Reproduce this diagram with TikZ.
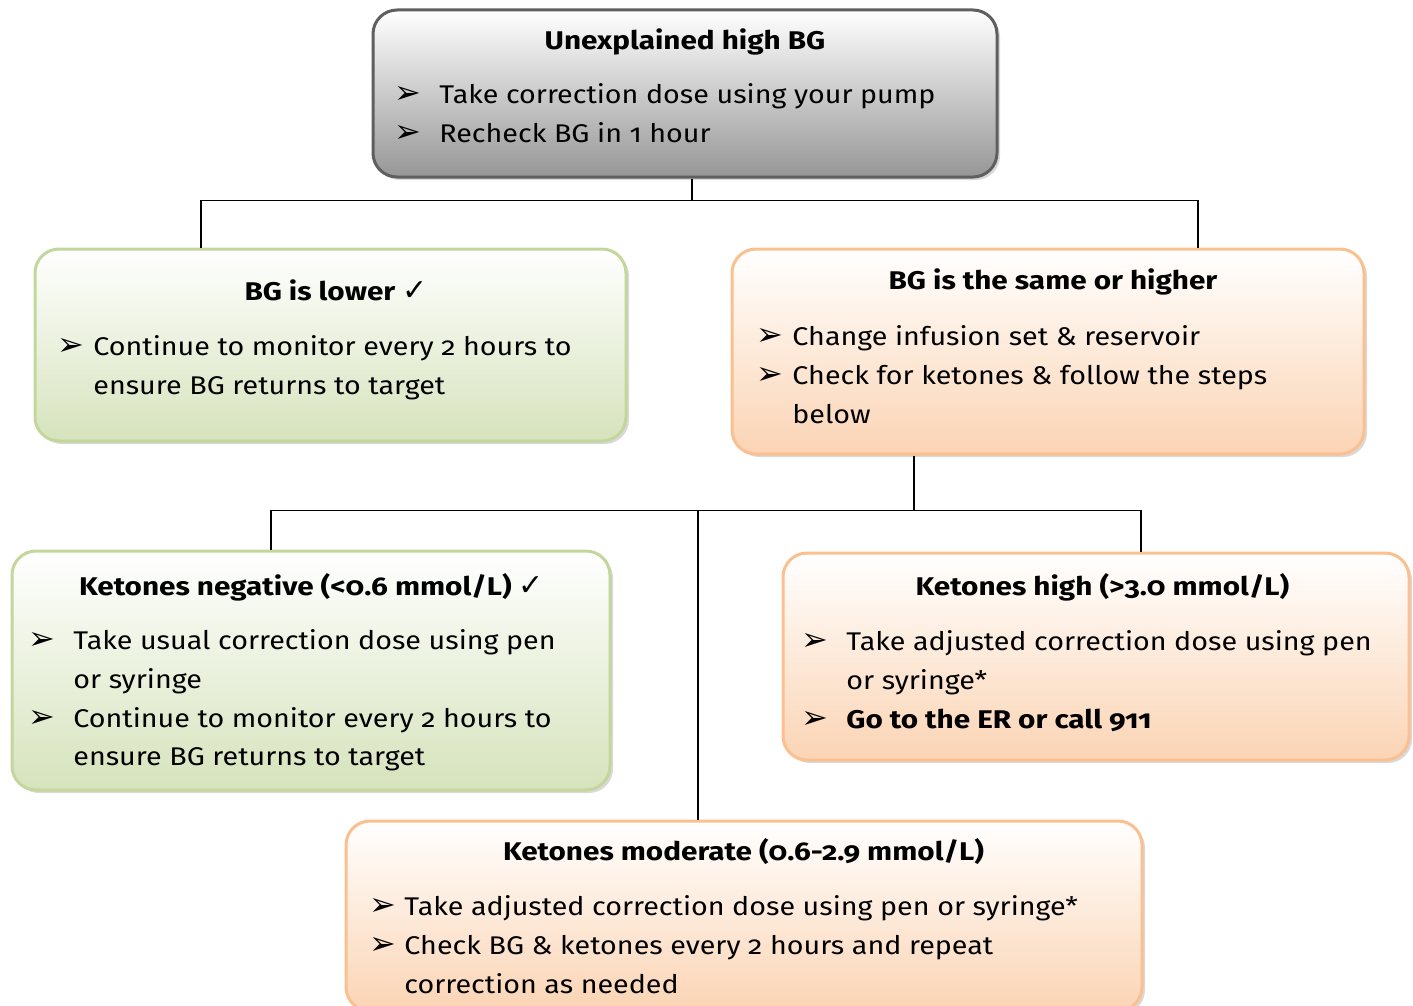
\documentclass[tikz,border=0pt]{standalone}
\usepackage{fontspec}
\setmainfont{Fira Sans}[Numbers=OldStyle, FakeStretch=1.12, BoldFeatures={FakeStretch=1.16}]
\newfontfamily\symfont{DejaVu Sans}
\usetikzlibrary{positioning, shadows}

\definecolor{hgGrayLine}{RGB}{95, 95, 95}
\definecolor{hgGrayFill}{RGB}{150, 150, 150}
\definecolor{hgGreenLine}{RGB}{195, 214, 155}
\definecolor{hgGreenFill}{RGB}{214, 227, 188}
\definecolor{hgOrangeLine}{RGB}{250, 192, 143}
\definecolor{hgOrangeFill}{RGB}{251, 212, 180}

\newcommand{\arrowbul}[1][22.5pt]{\makebox[#1][l]{\symfont\mdseries\fontsize{16}{16}\selectfont ➢}}
\newcommand{\arrowgap}[1][22.5pt]{\hspace*{#1}}
\newcommand{\okmark}{{\symfont\mdseries\fontsize{15}{15}\selectfont ✓}}

\tikzset{
    base/.style={
        font=\fontsize{12.8}{19.4}\selectfont,
        inner sep=0pt
    },
    panel/.style={
        rectangle,
        rounded corners=12pt,
        line width=1.5pt,
        inner sep=0pt,
        drop shadow={opacity=0.3, shadow xshift=1.5pt, shadow yshift=-1.5pt}
    },
    graypanel/.style={
        panel,
        draw=hgGrayLine,
        top color=white,
        bottom color=hgGrayFill
    },
    greenpanel/.style={
        panel,
        draw=hgGreenLine,
        top color=white,
        bottom color=hgGreenFill
    },
    orangepanel/.style={
        panel,
        draw=hgOrangeLine,
        top color=white,
        bottom color=hgOrangeFill
    },
    head/.style={
        base,
        font=\fontsize{12.8}{19.4}\selectfont\bfseries,
        anchor=base
    },
    body/.style={
        base,
        align=left,
        anchor=north west
    },
    link/.style={
        draw=black,
        line width=0.9pt
    }
}

\begin{document}
\begin{tikzpicture}[x=0.5pt, y=-0.5pt]
  \useasboundingbox (0,0) rectangle (1413,1006);

  % boxes
  \node[graypanel, minimum width=312pt, minimum height=83.5pt] (unexplained) at (685,93.5) {};
  \node[greenpanel, minimum width=295.5pt, minimum height=96pt] (lower) at (330.5,345) {};
  \node[orangepanel, minimum width=316pt, minimum height=102.5pt] (higher) at (1048,351.5) {};
  \node[greenpanel, minimum width=299pt, minimum height=119.5pt] (negative) at (311,670.5) {};
  \node[orangepanel, minimum width=313pt, minimum height=103.5pt] (high) at (1096,656.5) {};
  \node[orangepanel, minimum width=398pt, minimum height=95pt] (moderate) at (744,916) {};

  % connectors
  \draw[link] ([xshift=3.5pt]unexplained.south) -- ++(0,22) coordinate (splitA);
  \draw[link] ([xshift=-64.75pt]lower.north) |- (splitA) -| ([xshift=75pt]higher.north);
  \draw[link] ([xshift=-67pt]higher.south) -- ++(0,55) coordinate (splitB);
  \draw[link] ([xshift=-20pt]negative.north) |- (splitB) -| ([xshift=22.5pt]high.north);
  \draw[link] ([xshift=-23pt]moderate.north) -- ([xshift=-23pt]moderate.north |- splitB);

  % texts (body nodes: first baseline minus strut height)
  \node[head] (unexplainedhead) at (685,50) {Unexplained high BG};
  \node[body] (unexplainedtext) at (394,76) {\strut\arrowbul Take correction dose using your pump\\
    \arrowbul Recheck BG in 1 hour};

  \node[head] (lowerhead) at (336,300) {BG is lower \okmark};
  \node[body] (lowertext) at (57,328) {\strut\arrowbul[18pt]Continue to monitor every 2 hours to\\
    \arrowgap[18pt]ensure BG returns to target};

  \node[head] (higherhead) at (1053,289) {BG is the same or higher};
  \node[body] (highertext) at (756,318) {\strut\arrowbul[18pt]Change infusion set \& reservoir\\
    \arrowbul[18pt]Check for ketones \& follow the steps\\
    \arrowgap[18pt]below};

  \node[head] (negativehead) at (311.5,595) {Ketones negative (<0.6 mmol/L) \okmark};
  \node[body] (negativetext) at (28,622) {\strut\arrowbul Take usual correction dose using pen\\
    \arrowgap or syringe\\
    \arrowbul Continue to monitor every 2 hours to\\
    \arrowgap ensure BG returns to target};

  \node[head] (highhead) at (1102.5,595) {Ketones high (>3.0 mmol/L)};
  \node[body] (hightext) at (801,623) {\strut\arrowbul Take adjusted correction dose using pen\\
    \arrowgap or syringe*\\
    \arrowbul\textbf{Go to the ER or call 911}};

  \node[head] (moderatehead) at (743.5,860) {Ketones moderate (0.6-2.9 mmol/L)};
  \node[body] (moderatetext) at (369,888) {\strut\arrowbul[17.5pt]Take adjusted correction dose using pen or syringe*\\
    \arrowbul[17.5pt]Check BG \& ketones every 2 hours and repeat\\
    \arrowgap[17.5pt]correction as needed};
\end{tikzpicture}
\end{document}
